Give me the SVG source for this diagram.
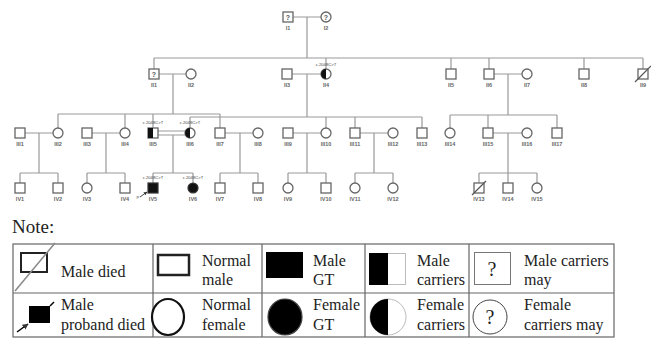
<svg xmlns="http://www.w3.org/2000/svg" width="651" height="338" viewBox="0 0 651 338">
  <style>
    .ln { stroke: #999; stroke-width: 1.2; fill: none; }
    .m { fill: #fff; stroke: #666; stroke-width: 1.3; }
    .blk { fill: #111; stroke: #333; stroke-width: 1.2; }
    .id { font-family: "Liberation Sans", Arial, sans-serif; font-size: 5.5px; font-weight: bold; fill: #666; text-anchor: middle; }
    .var { font-family: "Liberation Sans", Arial, sans-serif; font-size: 4.2px; fill: #444; text-anchor: middle; }
    .q { font-family: "Liberation Sans", Arial, sans-serif; font-size: 7px; font-weight: bold; fill: #555; text-anchor: middle; }
    .t { font-family: "Liberation Serif", "Times New Roman", serif; font-size: 16px; fill: #222; }
    .grid { stroke: #666; stroke-width: 1.2; fill: none; }
  </style>
  <defs>
    <marker id="arr" viewBox="0 0 10 10" refX="9" refY="5" markerWidth="4" markerHeight="4" orient="auto">
      <path d="M0,0 L10,5 L0,10 z" fill="#333"/>
    </marker>
  </defs>
  <rect width="651" height="338" fill="#fff"/>

  <!-- connectors: couple lines, descent lines and sibships -->
  <g id="connectors" class="ln">
    <path d="M293,17 H321 M307,17 V58 M154,58 H643 M154,58 V69 M326,58 V69 M451,58 V69 M489,58 V69 M584,58 V69 M643,58 V69"/>
    <path d="M159,74 H186 M173,74 V114 M292,74 H321 M307,74 V117 M494,74 H522 M508,74 V115"/>
    <path d="M58,114 H220 M58,114 V128 M125,114 V128 M153,114 V128 M220,114 V128"/>
    <path d="M190,117 H422 M190,117 V128 M326,117 V128 M355,117 V128 M422,117 V128"/>
    <path d="M450,115 H557 M450,115 V128 M488,115 V128 M557,115 V128"/>
    <path d="M25,133 H53 M39,133 V173 M92,133 H120 M106,133 V173 M158,131 H185 M158,135 H185 M173,135 V173 M225,133 H253 M240,133 V173 M293,133 H321 M307,133 V173 M360,133 H388 M374,133 V173 M493,133 H522 M508,133 V173"/>
    <path d="M20,173 H58 M20,173 V183 M58,173 V183 M87,173 H125 M87,173 V183 M125,173 V183 M153,173 H193 M153,173 V183 M193,173 V183 M220,173 H258 M220,173 V183 M258,173 V183 M288,173 H326 M288,173 V183 M326,173 V183 M355,173 H393 M355,173 V183 M393,173 V183 M479,173 H537 M479,173 V183 M508,173 V183 M537,173 V183"/>
  </g>

  <!-- generation I -->
  <g id="I1"><rect class="m" x="283" y="12" width="10" height="10"/><text class="q" x="288" y="19.5">?</text><text class="id" x="288" y="30">I1</text></g>
  <g id="I2"><circle class="m" cx="326" cy="17" r="5"/><text class="q" x="326" y="19.5">?</text><text class="id" x="326" y="30">I2</text></g>

  <!-- generation II -->
  <g id="II1"><rect class="m" x="149" y="69" width="10" height="10"/><text class="q" x="154" y="76.5">?</text><text class="id" x="154" y="87">II1</text></g>
  <g id="II2"><circle class="m" cx="191" cy="74" r="5"/><text class="id" x="191" y="87">II2</text></g>
  <g id="II3"><rect class="m" x="282" y="69" width="10" height="10"/><text class="id" x="287" y="87">II3</text></g>
  <g id="II4"><text class="var" x="326" y="66">c.2048C&gt;T</text><circle class="m" cx="326" cy="74" r="5"/><path d="M326,69 A5,5 0 0 0 326,79 Z" fill="#111"/><text class="id" x="326" y="87">II4</text></g>
  <g id="II5"><rect class="m" x="446" y="69" width="10" height="10"/><text class="id" x="451" y="87">II5</text></g>
  <g id="II6"><rect class="m" x="484" y="69" width="10" height="10"/><text class="id" x="489" y="87">II6</text></g>
  <g id="II7"><circle class="m" cx="527" cy="74" r="5"/><text class="id" x="527" y="87">II7</text></g>
  <g id="II8"><rect class="m" x="579" y="69" width="10" height="10"/><text class="id" x="584" y="87">II8</text></g>
  <g id="II9"><rect class="m" x="638" y="69" width="10" height="10"/><line x1="635" y1="82" x2="651" y2="66" stroke="#555" stroke-width="1.2"/><text class="id" x="643" y="87">II9</text></g>

  <!-- generation III -->
  <g id="III1"><rect class="m" x="15" y="128" width="10" height="10"/><text class="id" x="20" y="146">III1</text></g>
  <g id="III2"><circle class="m" cx="58" cy="133" r="5"/><text class="id" x="58" y="146">III2</text></g>
  <g id="III3"><rect class="m" x="82" y="128" width="10" height="10"/><text class="id" x="87" y="146">III3</text></g>
  <g id="III4"><circle class="m" cx="125" cy="133" r="5"/><text class="id" x="125" y="146">III4</text></g>
  <g id="III5"><text class="var" x="153" y="124">c.2048C&gt;T</text><rect class="m" x="148" y="128" width="10" height="10"/><rect x="148" y="128" width="5" height="10" fill="#111"/><text class="id" x="153" y="146">III5</text></g>
  <g id="III6"><text class="var" x="190" y="124">c.2048C&gt;T</text><circle class="m" cx="190" cy="133" r="5"/><path d="M190,128 A5,5 0 0 0 190,138 Z" fill="#111"/><text class="id" x="190" y="146">III6</text></g>
  <g id="III7"><rect class="m" x="215" y="128" width="10" height="10"/><text class="id" x="220" y="146">III7</text></g>
  <g id="III8"><circle class="m" cx="258" cy="133" r="5"/><text class="id" x="258" y="146">III8</text></g>
  <g id="III9"><rect class="m" x="283" y="128" width="10" height="10"/><text class="id" x="288" y="146">III9</text></g>
  <g id="III10"><circle class="m" cx="326" cy="133" r="5"/><text class="id" x="326" y="146">III10</text></g>
  <g id="III11"><rect class="m" x="350" y="128" width="10" height="10"/><text class="id" x="355" y="146">III11</text></g>
  <g id="III12"><circle class="m" cx="393" cy="133" r="5"/><text class="id" x="393" y="146">III12</text></g>
  <g id="III13"><rect class="m" x="417" y="128" width="10" height="10"/><text class="id" x="422" y="146">III13</text></g>
  <g id="III14"><circle class="m" cx="450" cy="133" r="5"/><text class="id" x="450" y="146">III14</text></g>
  <g id="III15"><rect class="m" x="483" y="128" width="10" height="10"/><text class="id" x="488" y="146">III15</text></g>
  <g id="III16"><circle class="m" cx="527" cy="133" r="5"/><text class="id" x="527" y="146">III16</text></g>
  <g id="III17"><rect class="m" x="552" y="128" width="10" height="10"/><text class="id" x="557" y="146">III17</text></g>

  <!-- generation IV -->
  <g id="IV1"><rect class="m" x="15" y="183" width="10" height="10"/><text class="id" x="20" y="201">IV1</text></g>
  <g id="IV2"><rect class="m" x="53" y="183" width="10" height="10"/><text class="id" x="58" y="201">IV2</text></g>
  <g id="IV3"><circle class="m" cx="87" cy="188" r="5"/><text class="id" x="87" y="201">IV3</text></g>
  <g id="IV4"><rect class="m" x="120" y="183" width="10" height="10"/><text class="id" x="125" y="201">IV4</text></g>
  <g id="IV5"><text class="var" x="153" y="179">c.2048C&gt;T</text><rect class="blk" x="148" y="183" width="10" height="10"/><line x1="140" y1="197" x2="147" y2="192" stroke="#333" stroke-width="0.9" marker-end="url(#arr)"/><text class="var" x="138" y="199">P</text><text class="id" x="153" y="201">IV5</text></g>
  <g id="IV6"><text class="var" x="193" y="179">c.2048C&gt;T</text><circle class="blk" cx="193" cy="188" r="5"/><text class="id" x="193" y="201">IV6</text></g>
  <g id="IV7"><rect class="m" x="215" y="183" width="10" height="10"/><text class="id" x="220" y="201">IV7</text></g>
  <g id="IV8"><rect class="m" x="253" y="183" width="10" height="10"/><text class="id" x="258" y="201">IV8</text></g>
  <g id="IV9"><circle class="m" cx="288" cy="188" r="5"/><text class="id" x="288" y="201">IV9</text></g>
  <g id="IV10"><rect class="m" x="321" y="183" width="10" height="10"/><text class="id" x="326" y="201">IV10</text></g>
  <g id="IV11"><circle class="m" cx="355" cy="188" r="5"/><text class="id" x="355" y="201">IV11</text></g>
  <g id="IV12"><circle class="m" cx="393" cy="188" r="5"/><text class="id" x="393" y="201">IV12</text></g>
  <g id="IV13"><rect class="m" x="474" y="183" width="10" height="10"/><line x1="472" y1="195" x2="486" y2="181" stroke="#555" stroke-width="1.2"/><text class="id" x="479" y="201">IV13</text></g>
  <g id="IV14"><rect class="m" x="503" y="183" width="10" height="10"/><text class="id" x="508" y="201">IV14</text></g>
  <g id="IV15"><circle class="m" cx="537" cy="188" r="5"/><text class="id" x="537" y="201">IV15</text></g>

  <!-- legend -->
  <text class="t" x="12" y="233" style="font-size:19px">Note:</text>
  <g id="legend">
    <rect class="grid" x="13" y="244" width="601" height="93"/>
    <path class="grid" d="M13,293 H614 M153,244 V337 M262,244 V337 M365,244 V337 M469,244 V337"/>

    <rect x="21" y="253" width="26" height="19" fill="#fff" stroke="#222" stroke-width="2"/>
    <line x1="15" y1="291" x2="55" y2="243" stroke="#888" stroke-width="1.5"/>
    <text class="t" x="61" y="277">Male died</text>

    <rect x="158" y="255" width="31" height="20" fill="#fff" stroke="#222" stroke-width="2.5"/>
    <text class="t" x="202" y="266">Normal</text><text class="t" x="202" y="285">male</text>

    <rect x="266" y="252" width="37" height="26" fill="#000"/>
    <text class="t" x="313" y="266">Male</text><text class="t" x="313" y="285">GT</text>

    <rect x="369.5" y="253.5" width="36" height="31" fill="#fff" stroke="#bbb" stroke-width="1"/>
    <rect x="369" y="253" width="19" height="32" fill="#000"/>
    <text class="t" x="417" y="266">Male</text><text class="t" x="417" y="285">carriers</text>

    <rect x="474.5" y="252.5" width="36" height="32" fill="#fff" stroke="#777" stroke-width="1"/>
    <text class="t" x="492" y="276" text-anchor="middle" style="font-size:20px">?</text>
    <text class="t" x="524" y="266">Male carriers</text><text class="t" x="524" y="285">may</text>

    <rect x="29" y="306" width="21" height="17" fill="#000"/>
    <line x1="50" y1="306" x2="54" y2="302" stroke="#000" stroke-width="1.5"/>
    <line x1="17" y1="332" x2="28" y2="324" stroke="#000" stroke-width="1.5" marker-end="url(#arr)"/>
    <text class="t" x="61" y="310">Male</text><text class="t" x="61" y="330">proband died</text>

    <ellipse cx="168" cy="317" rx="16" ry="18" fill="#fff" stroke="#111" stroke-width="2.2"/>
    <text class="t" x="202" y="310">Normal</text><text class="t" x="202" y="330">female</text>

    <ellipse cx="285" cy="317" rx="17" ry="18" fill="#000" stroke="#444" stroke-width="1.2"/>
    <text class="t" x="313" y="310">Female</text><text class="t" x="313" y="330">GT</text>

    <circle cx="388" cy="317" r="18" fill="#fff" stroke="#bbb" stroke-width="1"/>
    <path d="M388,299 A18,18 0 0 0 388,335 Z" fill="#000"/>
    <text class="t" x="417" y="310">Female</text><text class="t" x="417" y="330">carriers</text>

    <circle cx="490" cy="317" r="17" fill="#fff" stroke="#444" stroke-width="1"/>
    <text class="t" x="490" y="324" text-anchor="middle" style="font-size:20px">?</text>
    <text class="t" x="524" y="310">Female</text><text class="t" x="524" y="330">carriers may</text>
  </g>
</svg>
